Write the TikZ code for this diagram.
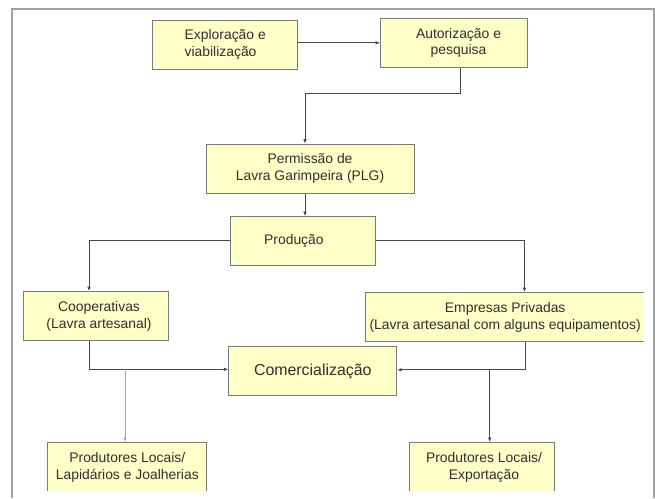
\documentclass[tikz,border=0pt]{standalone}
\usepackage{fontspec}
\setmainfont{Liberation Sans}
\usetikzlibrary{arrows.meta,calc}
\definecolor{boxfill}{HTML}{FFFFC8}
\definecolor{boxline}{HTML}{7A7A7A}
\definecolor{txt}{HTML}{303030}
\definecolor{wirecol}{HTML}{464646}
\definecolor{wirelight}{HTML}{A8A8A8}
\definecolor{framecol}{HTML}{A0A0A0}
\begin{document}
\begin{tikzpicture}[x=1pt,y=-1pt,
  stepbox/.style={draw=boxline, line width=1pt, fill=boxfill, text=txt,
    align=center, font=\fontsize{13.9}{16.7}\selectfont, inner sep=0pt,
    minimum height=49pt},
  flow/.style={draw=wirecol, line width=0.9pt, -{Latex[length=4.5pt,width=3.5pt]}},
  flowlight/.style={flow, draw=wirelight}]
\useasboundingbox (0,0) rectangle (655,498);
\fill[white] (0,0) rectangle (655,498);
% outer frame, open at the bottom
\draw[framecol, line width=1.3pt] (12,498) -- (12,9) -- (654,9) -- (654,498);

\begin{scope}
\clip (13,10) rectangle (643.5,490.7);

% boxes
\node[stepbox, minimum width=145pt, align=left] (expl) at (225.2,44.5) {Exploração e\\viabilização};
\node[stepbox, minimum width=146.6pt] (auth) at (454,42.8) {\hspace*{9pt}Autorização e\\\hspace*{9pt}pesquisa};
\node[stepbox, minimum width=208pt] (perm) at (310,168.7) {Permissão de\\Lavra Garimpeira (PLG)};
\node[stepbox, minimum width=145.7pt] (prod) at (302.9,241.2) {\hspace*{-18pt}Produção};
\node[stepbox, minimum width=145.4pt] (coop) at (96,316.2) {\hspace*{6pt}Cooperativas\\\hspace*{6pt}(Lavra artesanal)};
\node[stepbox, minimum width=278.5pt] (emp) at (505.2,317.2) {Empresas Privadas\\(Lavra artesanal com alguns equipamentos)};
\node[stepbox, minimum width=167.7pt, font=\fontsize{15.9}{19}\selectfont] (com) at (312.8,371.3) {Comercialização};
\node[stepbox, minimum width=158.7pt] (pl1) at (127.3,467.2) {Produtores Locais/\\Lapidários e Joalherias};
\node[stepbox, minimum width=145pt] (pl2) at (481.5,467.2) {\hspace*{5pt}Produtores Locais/\\\hspace*{5pt}Exportação};

% connectors
\draw[flow] (expl.east |- auth.west) -- (auth.west);
\draw[flow] ([xshift=6.7pt]auth.south) |- ($([xshift=-5pt]perm.north)+(0,-50)$) -- ([xshift=-5pt]perm.north);
\draw[flow] ([xshift=-5pt]perm.south) -- ([xshift=-5pt]perm.south |- prod.north);
\draw[flow] ([yshift=1pt]prod.west) -| ([xshift=-7pt]coop.north);
\draw[flow] ([yshift=1pt]prod.east) -| ([xshift=19.3pt]emp.north);
\draw[flow] ([xshift=-7pt]coop.south) |- ([yshift=2pt]com.west);
\draw[flow] ([xshift=20.3pt]emp.south) |- ([yshift=1.5pt]com.east);
\draw[flowlight] ([xshift=-2.3pt,yshift=2pt]pl1.north |- com.west) -- ([xshift=-2.3pt]pl1.north);
\draw[flow] ([xshift=8.2pt,yshift=1.5pt]pl2.north |- com.east) -- ([xshift=8.2pt]pl2.north);
\end{scope}
\end{tikzpicture}
\end{document}
